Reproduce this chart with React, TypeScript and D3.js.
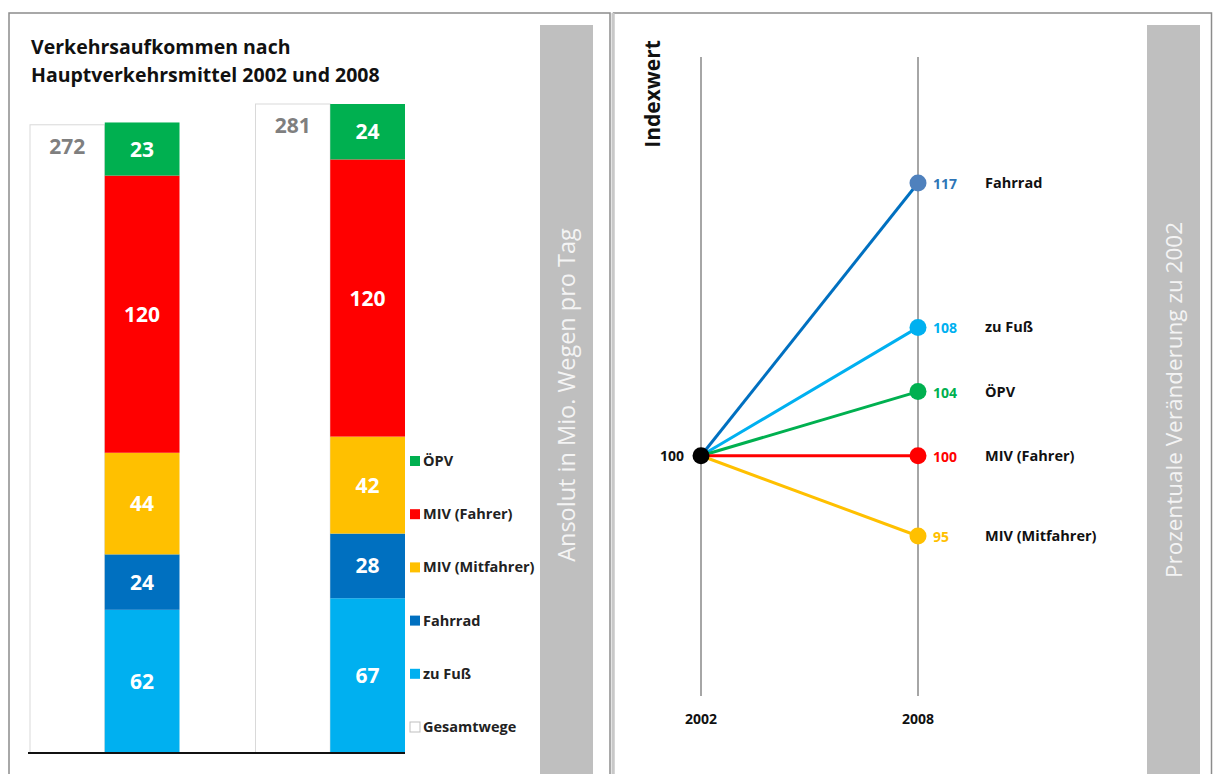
import React from "react";
import * as d3 from "d3";

const years = ["2002", "2008"];
const categories = ["zu Fuß", "Fahrrad", "MIV (Mitfahrer)", "MIV (Fahrer)", "ÖPV"];
const values2002 = [62, 24, 44, 120, 23];
const values2008 = [67, 28, 42, 120, 24];
const totals = [272, 281];
const colors = ["#00b0f0", "#0070c0", "#ffc000", "#ff0000", "#00b050"];
const legendOrder = ["ÖPV", "MIV (Fahrer)", "MIV (Mitfahrer)", "Fahrrad", "zu Fuß", "Gesamtwege"];

const indexCategories = ["Fahrrad", "zu Fuß", "ÖPV", "MIV (Fahrer)", "MIV (Mitfahrer)"];
const index2008 = [117, 108, 104, 100, 95];
const indexBase = 100;
const indexLineColors = ["#0070c0", "#00b0f0", "#00b050", "#ff0000", "#ffc000"];
const indexDotColors = ["#4f81bd", "#00b0f0", "#00b050", "#ff0000", "#ffc000"];
const indexLabelColors = ["#2e75b6", "#00b0f0", "#00b050", "#ff0000", "#ffc000"];

const FONT = "'Open Sans', Lato, sans-serif";

export default function App() {
  const W = 1215, H = 774;
  const baseline = 753;
  const yBar = d3.scaleLinear().domain([0, 281]).range([baseline, 104]);
  const xGroup = d3.scaleBand<string>().domain(years).range([30, 405]).paddingInner(0.337).paddingOuter(0);
  const half = xGroup.bandwidth() / 2;

  const stacks = [values2002, values2008].map((vals) => {
    let acc = 0;
    return vals.map((v) => {
      const s = { y0: acc, y1: acc + v, v };
      acc += v;
      return s;
    });
  });

  const xIdx = d3.scalePoint<string>().domain(years).range([701, 918]);
  const yIdx = d3.scaleLinear().domain([95, 117]).range([536, 183]);

  const legendY = d3.scalePoint<string>().domain(legendOrder).range([461, 727]);

  return (
    <svg width={W} height={H} style={{ display: "block", position: "absolute", left: 0, top: 0 }} fontFamily={FONT}>
      <rect x={0} y={0} width={W} height={H} fill="#ffffff" />
      {/* panel frames */}
      <rect x={9} y={13} width={601} height={780} fill="none" stroke="#8c8c8c" strokeWidth={1.5} />
      <rect x={613.5} y={13} width={598} height={780} fill="none" stroke="#8c8c8c" strokeWidth={1.5} />
      <line x1={613} x2={613} y1={13} y2={774} stroke="#c8c8c8" strokeWidth={3} />

      {/* title */}
      <text x={31} y={54} fontSize={19.5} fontWeight={700} fill="#111">Verkehrsaufkommen nach</text>
      <text x={31} y={82} fontSize={19.5} fontWeight={700} fill="#111">Hauptverkehrsmittel 2002 und 2008</text>

      {/* bars */}
      {years.map((yr, i) => {
        const x0 = xGroup(yr)!;
        return (
          <g key={yr}>
            <rect x={x0} y={yBar(totals[i])} width={half} height={baseline - yBar(totals[i])} fill="#fff" stroke="#d9d9d9" strokeWidth={1} />
            <text x={x0 + half / 2} y={yBar(totals[i]) + 29} textAnchor="middle" fontSize={21} fontWeight={700} fill="#7f7f7f">{totals[i]}</text>
            {stacks[i].map((s, j) => (
              <g key={j}>
                <rect x={x0 + half} y={yBar(s.y1)} width={half} height={yBar(s.y0) - yBar(s.y1)} fill={colors[j]} />
                <text x={x0 + half * 1.5} y={(yBar(s.y0) + yBar(s.y1)) / 2 + 7.5} textAnchor="middle" fontSize={21} fontWeight={700} fill="#fff">{s.v}</text>
              </g>
            ))}
          </g>
        );
      })}
      <line x1={28} x2={405} y1={baseline} y2={baseline} stroke="#111" strokeWidth={2} />

      {/* legend */}
      {legendOrder.map((name) => {
        const ci = categories.indexOf(name);
        const y = legendY(name)!;
        return (
          <g key={name}>
            <rect x={410} y={y - 5} width={10} height={10} fill={ci >= 0 ? colors[ci] : "#fff"} stroke={ci >= 0 ? "none" : "#bfbfbf"} strokeWidth={1} />
            <text x={423} y={y + 5} fontSize={14.5} fontWeight={700} fill="#222">{name}</text>
          </g>
        );
      })}

      {/* left gray band */}
      <rect x={540} y={25} width={53} height={760} fill="#bfbfbf" />
      <text transform="translate(575,395) rotate(-90)" textAnchor="middle" fontSize={23.5} fill="#f4f4f4">Ansolut in Mio. Wegen pro Tag</text>

      {/* right chart */}
      <text transform="translate(660,94) rotate(-90)" textAnchor="middle" fontSize={21} fontWeight={700} fill="#111">Indexwert</text>
      {years.map((yr) => (
        <g key={yr}>
          <line x1={xIdx(yr)} x2={xIdx(yr)} y1={57} y2={696} stroke="#a6a6a6" strokeWidth={2} />
          <text x={xIdx(yr)} y={724} textAnchor="middle" fontSize={14} fontWeight={700} fill="#111">{yr}</text>
        </g>
      ))}
      {indexCategories.map((c, i) => (
        <line key={c} x1={xIdx("2002")} y1={yIdx(indexBase)} x2={xIdx("2008")} y2={yIdx(index2008[i])} stroke={indexLineColors[i]} strokeWidth={3} />
      ))}
      <circle cx={xIdx("2002")} cy={yIdx(indexBase)} r={8.5} fill="#000" />
      <text x={684} y={yIdx(indexBase) + 5} textAnchor="end" fontSize={14} fontWeight={700} fill="#111">{indexBase}</text>
      {indexCategories.map((c, i) => (
        <g key={c}>
          <circle cx={xIdx("2008")} cy={yIdx(index2008[i])} r={8.5} fill={indexDotColors[i]} />
          <text x={933} y={yIdx(index2008[i]) + 6} fontSize={14} fontWeight={700} fill={indexLabelColors[i]}>{index2008[i]}</text>
          <text x={985} y={yIdx(index2008[i]) + 5} fontSize={14.5} fontWeight={700} fill="#111">{c}</text>
        </g>
      ))}

      {/* right gray band */}
      <rect x={1147} y={25} width={53} height={760} fill="#bfbfbf" />
      <text transform="translate(1182,400) rotate(-90)" textAnchor="middle" fontSize={22.5} fill="#f4f4f4">Prozentuale Veränderung zu 2002</text>
    </svg>
  );
}
